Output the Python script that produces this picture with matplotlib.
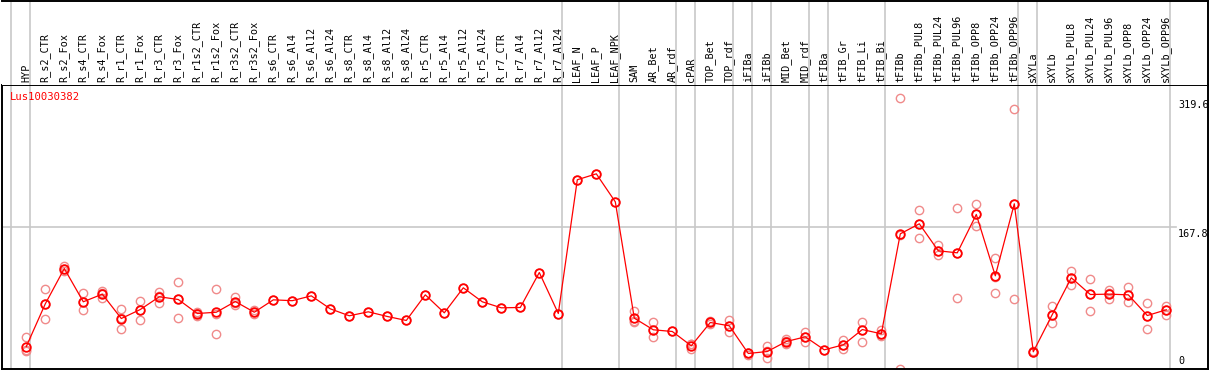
import matplotlib
matplotlib.use("Agg")
import matplotlib.pyplot as plt

gene = "Lus10030382"
categories = ["HYP", "R_s2_CTR", "R_s2_Fox", "R_s4_CTR", "R_s4_Fox", "R_r1_CTR", "R_r1_Fox",
              "R_r3_CTR", "R_r3_Fox", "R_r1s2_CTR", "R_r1s2_Fox", "R_r3s2_CTR", "R_r3s2_Fox",
              "R_s6_CTR", "R_s6_Al4", "R_s6_Al12", "R_s6_Al24", "R_s8_CTR", "R_s8_Al4",
              "R_s8_Al12", "R_s8_Al24", "R_r5_CTR", "R_r5_Al4", "R_r5_Al12", "R_r5_Al24",
              "R_r7_CTR", "R_r7_Al4", "R_r7_Al12", "R_r7_Al24", "LEAF_N", "LEAF_P", "LEAF_NPK",
              "SAM", "AR_Bet", "AR_rdf", "cPAR", "TOP_Bet", "TOP_rdf", "iFIBa", "iFIBb",
              "MID_Bet", "MID_rdf", "tFIBa", "tFIB_Gr", "tFIB_Li", "tFIB_Bi", "tFIBb",
              "tFIBb_PUL8", "tFIBb_PUL24", "tFIBb_PUL96", "tFIBb_OPP8", "tFIBb_OPP24",
              "tFIBb_OPP96", "sXYLa", "sXYLb", "sXYLb_PUL8", "sXYLb_PUL24", "sXYLb_PUL96",
              "sXYLb_OPP8", "sXYLb_OPP24", "sXYLb_OPP96"]

means = [26.5, 76.8, 118.4, 79.2, 88.2, 59.5, 70.1, 85.1, 81.9, 65.4, 66.9, 79.5, 66.9,
         81.5, 80.5, 86.2, 70.9, 62.7, 67.4, 61.9, 57.2, 87.4, 66.2, 95.7, 79.2,
         72.1, 72.5, 113.7, 65.4, 223.0, 230.0, 197.0,
         59.9, 46.2, 44.2, 27.3, 54.8, 50.9, 18.3, 20.6,
         32.4, 37.9, 22.6, 28.5, 46.5, 41.5, 159.3,
         171.1, 139.3, 136.9, 182.1, 109.8, 194.7,
         20.3, 64.2, 107.5, 87.8, 88.2, 87.4, 63.0, 69.8]

replicates = [[38, 22, 21], [94, 59, 77], [121, 118, 116], [89, 70, 79], [92, 90, 84],
              [71, 47, 60], [80, 58, 70], [91, 78, 86], [103, 60, 82], [67, 63, 66],
              [94.5, 41.5, 65], [85, 76, 78], [69, 65, 67],
              [81.5], [80.5], [86.2], [70.9], [62.7], [67.4], [61.9], [57.2], [87.4],
              [66.2], [95.7], [79.2], [72.1], [72.5], [113.7], [65.4],
              [223.0], [230.0], [197.0],
              [68.6, 56, 55], [54.8, 37.9, 46], [44.2], [29, 23, 30], [56, 53, 55],
              [58, 44, 51], [17, 19, 19], [27, 13, 21], [35, 29, 33], [44, 32, 38],
              [22.6], [34, 23, 28], [55.6, 32, 46], [45.7, 38.7, 41],
              [319.6, 158, 0], [187.6, 154.6, 171], [146, 134, 139], [190, 84, 137],
              [194.7, 168.3, 183], [131, 90, 109], [306.6, 82.7, 195],
              [20, 21, 20], [73.7, 54.4, 64], [115.7, 99.2, 107], [106.3, 68.9, 88],
              [93.3, 81.9, 89], [97.2, 78.4, 87], [78, 47.7, 63], [74.8, 63.9, 70]]

group_ends = [-1, 0, 28, 31, 34, 35, 37, 38, 39, 41, 42, 45, 52, 53, 60]
ytick_vals = [0, 167.8, 319.6]
ytick_labels = ["0", "167.8", "319.6"]

W, H = 1209, 370
DPI = 100
fig = plt.figure(figsize=(W / DPI, H / DPI), dpi=DPI)
FONT = "DejaVu Sans Mono"
FS = 7.3

x0px, dx = 26.3, 19.0
left_px, right_px = 1.5, 1208.0
top_px, sep_px, bot_px = 0.5, 85.0, 369.0
xlim = ((left_px - x0px) / dx, (right_px - x0px) / dx)
pxu = 0.8486
ylim = (0, (bot_px - sep_px) / pxu)

ax = fig.add_axes([left_px / W, (H - bot_px) / H, (right_px - left_px) / W, (bot_px - sep_px) / H])
hx = fig.add_axes([left_px / W, (H - sep_px) / H, (right_px - left_px) / W, (sep_px - top_px) / H])

grid_c = "#c8c8c8"
for a in (ax, hx):
    a.set_xlim(*xlim)
    a.set_xticks([])
    a.set_yticks([])
    for g in group_ends:
        a.axvline(g + 0.22, color=grid_c, lw=1.2, zorder=0)

ax.set_ylim(*ylim)
hx.set_ylim(0, 1)

# spines
for s in ("left", "bottom", "top", "right"):
    ax.spines[s].set_linewidth(1.4)
    ax.spines[s].set_color("black")
hx.spines["left"].set_visible(False)
hx.spines["bottom"].set_visible(False)
hx.spines["top"].set_linewidth(1.4)
hx.spines["right"].set_linewidth(1.4)

# horizontal grid at middle tick
xr_end = (1176 - x0px) / dx
ax.plot([xlim[0], xr_end], [ytick_vals[1]] * 2, color=grid_c, lw=1.2, zorder=0)

# replicates
for i, reps in enumerate(replicates):
    ax.plot([i] * len(reps), reps, linestyle="none", marker="o", ms=6, mfc="none",
            mec="#f08a8a", mew=1.0, clip_on=False, zorder=2)

xs = list(range(len(categories)))
ax.plot(xs, means, color="red", lw=0.9, zorder=3)
ax.plot(xs, means, linestyle="none", marker="o", ms=6.2, mfc="none", mec="red",
        mew=1.3, zorder=4, clip_on=False)

# category labels
for i, c in enumerate(categories):
    hx.text(i - 0.02, 0.03, c, rotation=90, ha="center", va="bottom",
            fontsize=FS, family=FONT, color="black")

# right-hand value labels
xt = (1178 - x0px) / dx
off = 2.5 / pxu
ax.text(xt, ytick_vals[2] - off, ytick_labels[2], ha="left", va="top", fontsize=FS, family=FONT)
ax.text(xt, ytick_vals[1] - off, ytick_labels[1], ha="left", va="top", fontsize=FS, family=FONT)
ax.text(xt, ytick_vals[0] + 3.0 / pxu, ytick_labels[0], ha="left", va="bottom", fontsize=FS, family=FONT)

# gene label
ax.text((10 - x0px) / dx, ylim[1] - 7 / pxu, gene, ha="left", va="top", color="red",
        fontsize=FS + 0.3, family=FONT)

fig.savefig("out.png", dpi=DPI)
